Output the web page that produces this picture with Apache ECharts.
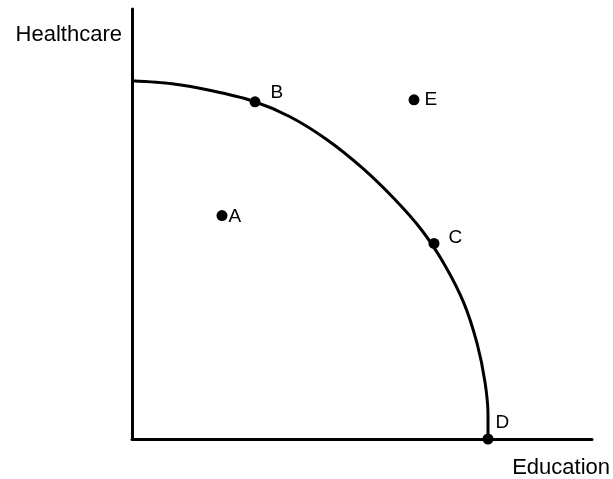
<!DOCTYPE html>
<html>
<head>
<meta charset="utf-8">
<script src="https://cdn.jsdelivr.net/npm/echarts@6/dist/echarts.min.js"></script>
<style>html,body{margin:0;padding:0;background:#fff;}#chart{width:613px;height:479px;}</style>
</head>
<body>
<div id="chart"></div>
<script>
// Production possibilities frontier (arbitrary units)
const curveEducation  = [0, 40, 80, 120, 158, 195, 230, 262, 290, 313, 332, 345, 353, 356, 356];
const curveHealthcare = [359, 356, 349, 339, 323, 300, 272, 241, 209, 174, 136, 96, 57, 24, 0];
const pointNames      = ['A', 'B', 'C', 'D', 'E'];
const pointEducation  = [90, 123, 302, 356, 282];
const pointHealthcare = [224, 338, 196, 0, 340];
const xAxisTitle = 'Education';
const yAxisTitle = 'Healthcare';

// label placement (style, not data)
const labelOffsets = { A: [-1, 1], B: [8, -9], C: [7, -6], D: [0, -16], E: [3, 0] };

const chart = echarts.init(document.getElementById('chart'));
const font = 'Liberation Sans, Arial, sans-serif';
chart.setOption({
  animation: false,
  backgroundColor: '#fff',
  grid: { left: 132, right: 21, top: 9, bottom: 39 },
  xAxis: {
    type: 'value', min: 0, max: 460,
    name: xAxisTitle, nameLocation: 'end', nameGap: 18,
    nameTextStyle: { color: '#000', fontSize: 22, fontFamily: font, align: 'right', verticalAlign: 'top', padding: [18, 0, 0, 0] },
    axisLine: { lineStyle: { color: '#000', width: 3 } },
    axisTick: { show: false }, axisLabel: { show: false }, splitLine: { show: false }
  },
  yAxis: {
    type: 'value', min: 0, max: 431,
    name: yAxisTitle, nameLocation: 'end', nameGap: -26,
    nameTextStyle: { color: '#000', fontSize: 22, fontFamily: font, align: 'right', verticalAlign: 'middle', padding: [0, 10, 0, 0] },
    axisLine: { show: true, lineStyle: { color: '#000', width: 3 } },
    axisTick: { show: false }, axisLabel: { show: false }, splitLine: { show: false }
  },
  series: [
    {
      type: 'line', smooth: 0.3, symbol: 'none',
      lineStyle: { color: '#000', width: 3 },
      data: curveEducation.map((x, i) => [x, curveHealthcare[i]]),
      z: 2
    },
    {
      type: 'scatter', symbol: 'circle', symbolSize: 11,
      itemStyle: { color: '#000', opacity: 1 },
      data: pointNames.map((n, i) => ({
        name: n, value: [pointEducation[i], pointHealthcare[i]],
        label: { offset: labelOffsets[n] }
      })),
      label: {
        show: true, position: 'right', distance: 2,
        formatter: p => p.name,
        color: '#000', fontSize: 19, fontFamily: font
      },
      z: 3
    }
  ]
});
</script>
</body>
</html>
